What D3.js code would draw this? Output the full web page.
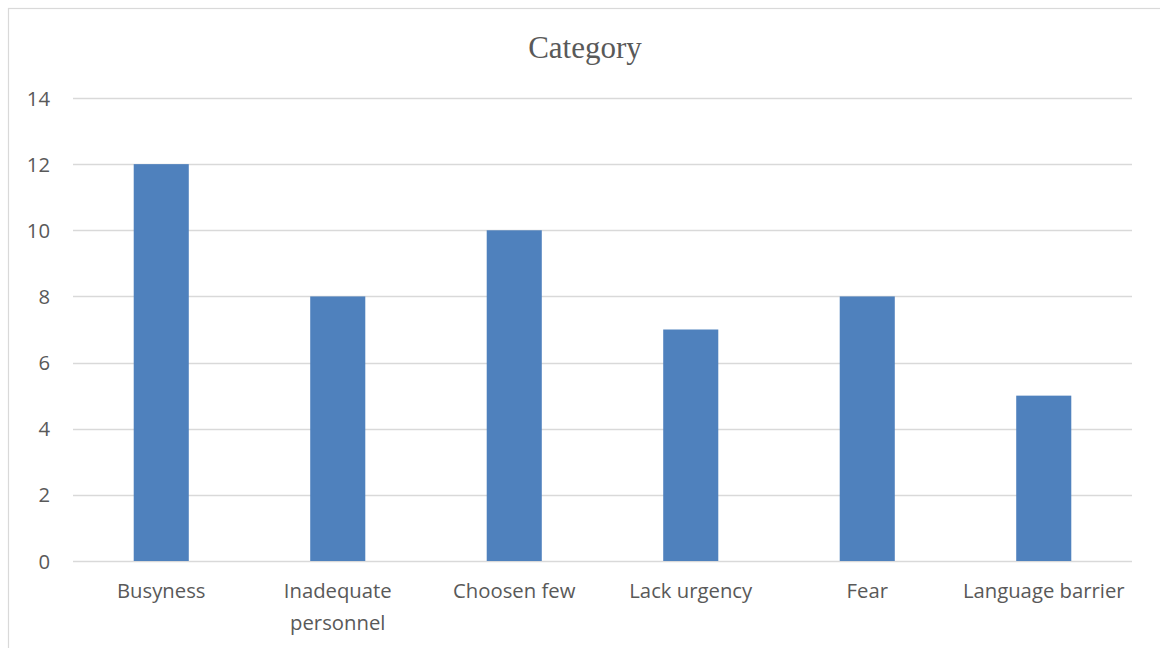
<!DOCTYPE html>
<html>
<head>
<meta charset="utf-8">
<script src="https://cdn.jsdelivr.net/npm/d3@7/dist/d3.min.js"></script>
<style>
  html, body { margin: 0; padding: 0; background: #fff; }
  svg { display: block; }
</style>
</head>
<body>
<svg id="chart" width="1160" height="648"></svg>
<script>
// Reasons, counts and axis ticks
const categories = [["Busyness"], ["Inadequate", "personnel"], ["Choosen few"], ["Lack urgency"], ["Fear"], ["Language barrier"]];
const values = [12, 8, 10, 7, 8, 5];
const yTicks = [0, 2, 4, 6, 8, 10, 12, 14];
const titleText = "Category";

const svg = d3.select("#chart");
const W = 1160, H = 648;
const plot = { left: 73, right: 1132, top: 98, bottom: 561 };
const labelFont = "'Open Sans', 'Noto Sans', sans-serif";
const labelSize = 20.3;

// chart frame
svg.append("rect")
  .attr("x", 8.5).attr("y", 8.5)
  .attr("width", W + 10).attr("height", H + 10)
  .attr("fill", "#fff").attr("stroke", "#d9d9d9").attr("stroke-width", 1.2);

const labels = categories.map(c => c.join(" "));
const x = d3.scaleBand().domain(labels).range([plot.left, plot.right]).padding(0);
const y = d3.scaleLinear().domain([0, 14]).range([plot.bottom, plot.top]);

// gridlines
svg.append("g").selectAll("line").data(yTicks).join("line")
  .attr("x1", plot.left).attr("x2", plot.right)
  .attr("y1", d => Math.round(y(d)) + 0.5).attr("y2", d => Math.round(y(d)) + 0.5)
  .attr("stroke", "#d9d9d9").attr("stroke-width", 1.3);

// y tick labels
svg.append("g").selectAll("text").data(yTicks).join("text")
  .attr("x", 50).attr("y", d => y(d) + 7.5)
  .attr("text-anchor", "end")
  .attr("font-family", labelFont)
  .attr("font-size", labelSize).attr("fill", "#595959")
  .text(d => d);

// bars
const barW = x.bandwidth() * 0.312;
svg.append("g").selectAll("rect").data(values).join("rect")
  .attr("x", (d, i) => x(labels[i]) + x.bandwidth() / 2 - barW / 2)
  .attr("width", barW)
  .attr("y", d => y(d))
  .attr("height", d => y(0) - y(d))
  .attr("fill", "#4f81bd");

// x category labels (wrapped)
const xl = svg.append("g").selectAll("text").data(categories).join("text")
  .attr("text-anchor", "middle")
  .attr("font-family", labelFont)
  .attr("font-size", labelSize).attr("fill", "#595959")
  .attr("transform", (d, i) => `translate(${x(labels[i]) + x.bandwidth() / 2},598)`);
xl.selectAll("tspan").data(d => d).join("tspan")
  .attr("x", 0).attr("dy", (d, j) => j === 0 ? 0 : 32)
  .text(d => d);

// title
svg.append("text")
  .attr("x", 585).attr("y", 58)
  .attr("text-anchor", "middle")
  .attr("font-family", "'Liberation Serif', 'DejaVu Serif', serif")
  .attr("font-size", 31).attr("fill", "#595959")
  .text(titleText);
</script>
</body>
</html>
